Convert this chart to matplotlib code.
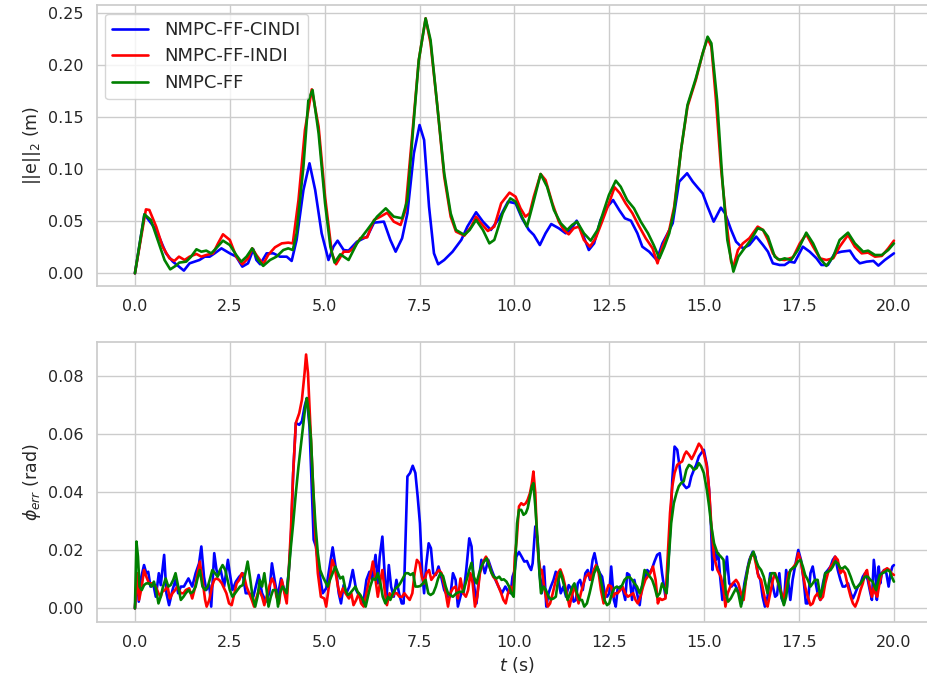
import matplotlib
matplotlib.use("Agg")
import matplotlib.pyplot as plt
import seaborn as sns

# Position error norm ||e||_2 (m): (time s, value)
err_cindi = [
    (0.00, 0.0), (0.25, 0.0567), (0.56, 0.0417), (0.82, 0.0192), (1.00, 0.0112), (1.29, 0.0026),
    (1.44, 0.0096), (1.70, 0.0128), (1.84, 0.0160), (1.97, 0.0160), (2.10, 0.0192), (2.28, 0.0240),
    (2.50, 0.0192), (2.67, 0.0160), (2.83, 0.0064), (2.98, 0.0096), (3.12, 0.0231), (3.20, 0.0128),
    (3.30, 0.0087), (3.47, 0.0192), (3.65, 0.0192), (3.82, 0.0160), (4.00, 0.0160), (4.13, 0.0119),
    (4.26, 0.0321), (4.44, 0.0801), (4.60, 0.1058), (4.75, 0.0801), (4.92, 0.0385), (5.10, 0.0128),
    (5.23, 0.0256), (5.34, 0.0314), (5.50, 0.0224), (5.63, 0.0218), (5.85, 0.0304), (6.12, 0.0353),
    (6.30, 0.0487), (6.56, 0.0497), (6.73, 0.0321), (6.87, 0.0208), (7.04, 0.0337), (7.18, 0.0577),
    (7.35, 0.1154), (7.50, 0.1426), (7.62, 0.1282), (7.75, 0.0641), (7.88, 0.0192), (7.99, 0.0087),
    (8.15, 0.0128), (8.37, 0.0208), (8.60, 0.0321), (8.76, 0.0449), (8.99, 0.0587), (9.17, 0.0497),
    (9.38, 0.0417), (9.60, 0.0530), (9.83, 0.0689), (10.03, 0.0673), (10.20, 0.0529), (10.38, 0.0417),
    (10.51, 0.0369), (10.67, 0.0272), (10.82, 0.0385), (10.97, 0.0474), (11.17, 0.0433), (11.35, 0.0385),
    (11.48, 0.0417), (11.64, 0.0506), (11.79, 0.0385), (11.96, 0.0224), (12.10, 0.0288), (12.27, 0.0513),
    (12.45, 0.0641), (12.60, 0.0705), (12.76, 0.0609), (12.91, 0.0529), (13.07, 0.0506), (13.24, 0.0385),
    (13.37, 0.0256), (13.55, 0.0208), (13.75, 0.0128), (13.90, 0.0288), (14.04, 0.0385), (14.17, 0.0481),
    (14.34, 0.0881), (14.55, 0.0962), (14.70, 0.0881), (14.83, 0.0824), (14.96, 0.0769), (15.09, 0.0641),
    (15.25, 0.0497), (15.44, 0.0631), (15.55, 0.0577), (15.71, 0.0417), (15.84, 0.0304), (16.02, 0.0240),
    (16.19, 0.0272), (16.37, 0.0353), (16.55, 0.0272), (16.68, 0.0208), (16.81, 0.0096), (16.99, 0.0080),
    (17.12, 0.0080), (17.25, 0.0112), (17.38, 0.0103), (17.60, 0.0256), (17.78, 0.0208), (17.96, 0.0144),
    (18.09, 0.0080), (18.26, 0.0080), (18.44, 0.0192), (18.62, 0.0208), (18.84, 0.0218), (18.97, 0.0144),
    (19.10, 0.0096), (19.28, 0.0112), (19.46, 0.0119), (19.59, 0.0074), (19.76, 0.0128), (20.00, 0.0192),
]

err_indi = [
    (0.00, 0.0), (0.29, 0.0615), (0.38, 0.0609), (0.56, 0.0449), (0.73, 0.0256), (0.91, 0.0144),
    (1.04, 0.0119), (1.16, 0.0160), (1.31, 0.0128), (1.44, 0.0160), (1.62, 0.0186), (1.75, 0.0160),
    (1.88, 0.0176), (2.06, 0.0192), (2.19, 0.0288), (2.32, 0.0375), (2.50, 0.0321), (2.67, 0.0160),
    (2.83, 0.0087), (2.98, 0.0144), (3.09, 0.0240), (3.20, 0.0176), (3.38, 0.0087), (3.51, 0.0176),
    (3.69, 0.0250), (3.87, 0.0288), (4.04, 0.0295), (4.16, 0.0288), (4.31, 0.0705), (4.48, 0.1378),
    (4.66, 0.1769), (4.84, 0.1410), (5.01, 0.0737), (5.19, 0.0192), (5.30, 0.0087), (5.50, 0.0208),
    (5.64, 0.0208), (5.76, 0.0240), (5.94, 0.0337), (6.12, 0.0346), (6.30, 0.0513), (6.47, 0.0545),
    (6.65, 0.0583), (6.82, 0.0497), (7.00, 0.0465), (7.13, 0.0609), (7.31, 0.1346), (7.48, 0.2051),
    (7.66, 0.2452), (7.79, 0.2212), (7.97, 0.1603), (8.15, 0.0929), (8.32, 0.0545), (8.46, 0.0401),
    (8.68, 0.0362), (8.86, 0.0449), (8.99, 0.0545), (9.12, 0.0481), (9.30, 0.0407), (9.47, 0.0449),
    (9.65, 0.0673), (9.87, 0.0776), (10.03, 0.0737), (10.16, 0.0625), (10.29, 0.0545), (10.40, 0.0577),
    (10.51, 0.0737), (10.69, 0.0955), (10.82, 0.0897), (11.00, 0.0673), (11.17, 0.0497), (11.30, 0.0417),
    (11.43, 0.0375), (11.56, 0.0433), (11.70, 0.0449), (11.83, 0.0321), (11.99, 0.0256), (12.14, 0.0337),
    (12.31, 0.0497), (12.49, 0.0673), (12.64, 0.0827), (12.78, 0.0769), (12.93, 0.0673), (13.11, 0.0577),
    (13.29, 0.0449), (13.46, 0.0337), (13.64, 0.0240), (13.77, 0.0096), (13.90, 0.0256), (14.08, 0.0417),
    (14.21, 0.0641), (14.39, 0.1186), (14.56, 0.1603), (14.78, 0.1859), (14.96, 0.2115), (15.09, 0.2260),
    (15.19, 0.2179), (15.31, 0.1667), (15.44, 0.1026), (15.58, 0.0513), (15.71, 0.0112), (15.77, 0.0064),
    (15.89, 0.0224), (16.02, 0.0288), (16.19, 0.0337), (16.41, 0.0449), (16.55, 0.0417), (16.68, 0.0321),
    (16.81, 0.0192), (16.94, 0.0135), (17.12, 0.0128), (17.34, 0.0154), (17.52, 0.0288), (17.69, 0.0375),
    (17.87, 0.0256), (18.05, 0.0144), (18.22, 0.0128), (18.40, 0.0144), (18.57, 0.0256), (18.79, 0.0369),
    (18.97, 0.0256), (19.15, 0.0192), (19.32, 0.0199), (19.50, 0.0160), (19.68, 0.0167), (19.85, 0.0240),
    (20.00, 0.0314),
]

err_ff = [
    (0.00, 0.0), (0.25, 0.0567), (0.42, 0.0513), (0.60, 0.0321), (0.78, 0.0128), (0.93, 0.0038),
    (1.07, 0.0071), (1.17, 0.0103), (1.35, 0.0112), (1.48, 0.0160), (1.62, 0.0231), (1.75, 0.0208),
    (1.88, 0.0218), (2.01, 0.0192), (2.14, 0.0240), (2.32, 0.0314), (2.50, 0.0272), (2.67, 0.0176),
    (2.80, 0.0112), (2.94, 0.0160), (3.09, 0.0240), (3.25, 0.0128), (3.38, 0.0071), (3.56, 0.0128),
    (3.73, 0.0160), (3.91, 0.0224), (4.04, 0.0240), (4.16, 0.0224), (4.26, 0.0385), (4.44, 0.1026),
    (4.57, 0.1667), (4.68, 0.1763), (4.84, 0.1346), (5.01, 0.0673), (5.15, 0.0256), (5.26, 0.0103),
    (5.41, 0.0183), (5.63, 0.0128), (5.85, 0.0288), (6.12, 0.0417), (6.38, 0.0545), (6.61, 0.0625),
    (6.82, 0.0545), (7.04, 0.0529), (7.18, 0.0705), (7.35, 0.1474), (7.48, 0.2051), (7.66, 0.2452),
    (7.79, 0.2244), (7.97, 0.1603), (8.15, 0.0962), (8.32, 0.0577), (8.46, 0.0417), (8.68, 0.0369),
    (8.82, 0.0417), (8.99, 0.0513), (9.17, 0.0417), (9.34, 0.0288), (9.47, 0.0321), (9.69, 0.0577),
    (9.89, 0.0721), (10.03, 0.0689), (10.20, 0.0545), (10.33, 0.0449), (10.47, 0.0641), (10.69, 0.0955),
    (10.86, 0.0833), (11.04, 0.0609), (11.22, 0.0481), (11.39, 0.0417), (11.52, 0.0465), (11.65, 0.0497),
    (11.83, 0.0385), (12.01, 0.0314), (12.19, 0.0417), (12.36, 0.0609), (12.49, 0.0753), (12.67, 0.0891),
    (12.80, 0.0833), (12.97, 0.0705), (13.15, 0.0625), (13.33, 0.0497), (13.52, 0.0385), (13.67, 0.0272),
    (13.82, 0.0144), (13.95, 0.0256), (14.08, 0.0385), (14.21, 0.0609), (14.39, 0.1186), (14.56, 0.1619),
    (14.78, 0.1875), (14.96, 0.2115), (15.09, 0.2276), (15.19, 0.2212), (15.34, 0.1667), (15.48, 0.0897),
    (15.61, 0.0321), (15.77, 0.0016), (15.90, 0.0160), (16.06, 0.0240), (16.23, 0.0321), (16.41, 0.0433),
    (16.55, 0.0417), (16.68, 0.0353), (16.86, 0.0160), (16.99, 0.0128), (17.12, 0.0144), (17.29, 0.0128),
    (17.47, 0.0224), (17.69, 0.0391), (17.87, 0.0288), (18.05, 0.0144), (18.22, 0.0071), (18.40, 0.0160),
    (18.57, 0.0321), (18.79, 0.0391), (18.97, 0.0288), (19.19, 0.0208), (19.32, 0.0218), (19.50, 0.0176),
    (19.68, 0.0176), (19.85, 0.0224), (20.00, 0.0288),
]

# Attitude error phi_err (rad): (time s, value)
phi_cindi = [
    (0.00, 0.0), (0.06, 0.0121), (0.10, 0.0023), (0.15, 0.0098), (0.24, 0.0149), (0.30, 0.0121),
    (0.35, 0.0126), (0.41, 0.0075), (0.48, 0.0086), (0.55, 0.0040), (0.63, 0.0121), (0.68, 0.0080),
    (0.77, 0.0184), (0.83, 0.0052), (0.90, 0.0011), (0.99, 0.0063), (1.07, 0.0098), (1.14, 0.0052),
    (1.21, 0.0075), (1.29, 0.0075), (1.41, 0.0103), (1.51, 0.0075), (1.60, 0.0121), (1.69, 0.0155),
    (1.75, 0.0213), (1.82, 0.0109), (1.88, 0.0063), (1.96, 0.0080), (2.01, 0.0006), (2.09, 0.0190),
    (2.15, 0.0132), (2.20, 0.0115), (2.26, 0.0132), (2.35, 0.0075), (2.45, 0.0167), (2.50, 0.0121),
    (2.57, 0.0063), (2.66, 0.0092), (2.75, 0.0109), (2.84, 0.0121), (2.92, 0.0052), (3.01, 0.0052),
    (3.12, 0.0040), (3.26, 0.0115), (3.35, 0.0052), (3.45, 0.0023), (3.54, 0.0052), (3.61, 0.0155),
    (3.68, 0.0098), (3.76, 0.0040), (3.85, 0.0103), (3.91, 0.0075), (3.98, 0.0040), (4.05, 0.0121),
    (4.11, 0.0236), (4.17, 0.0466), (4.24, 0.0638), (4.33, 0.0632), (4.40, 0.0644), (4.47, 0.0695),
    (4.53, 0.0724), (4.60, 0.0626), (4.66, 0.0408), (4.71, 0.0236), (4.77, 0.0213), (4.86, 0.0121),
    (4.95, 0.0052), (5.04, 0.0069), (5.13, 0.0144), (5.21, 0.0210), (5.30, 0.0132), (5.37, 0.0052),
    (5.43, 0.0017), (5.50, 0.0080), (5.57, 0.0052), (5.65, 0.0075), (5.74, 0.0132), (5.83, 0.0063),
    (5.92, 0.0040), (6.01, 0.0011), (6.10, 0.0098), (6.18, 0.0126), (6.25, 0.0098), (6.34, 0.0184),
    (6.40, 0.0086), (6.45, 0.0178), (6.52, 0.0247), (6.58, 0.0121), (6.62, 0.0017), (6.69, 0.0149),
    (6.75, 0.0075), (6.82, 0.0040), (6.89, 0.0098), (6.96, 0.0052), (7.03, 0.0017), (7.08, 0.0017),
    (7.13, 0.0236), (7.18, 0.0454), (7.25, 0.0466), (7.32, 0.0491), (7.39, 0.0466), (7.45, 0.0385),
    (7.51, 0.0293), (7.57, 0.0121), (7.62, 0.0052), (7.67, 0.0144), (7.74, 0.0224), (7.80, 0.0207),
    (7.86, 0.0121), (7.93, 0.0115), (8.00, 0.0144), (8.07, 0.0109), (8.15, 0.0063), (8.25, 0.0040),
    (8.31, 0.0040), (8.38, 0.0121), (8.45, 0.0098), (8.51, 0.0006), (8.60, 0.0052), (8.66, 0.0052),
    (8.73, 0.0132), (8.81, 0.0241), (8.87, 0.0213), (8.93, 0.0086), (9.00, 0.0017), (9.07, 0.0109),
    (9.13, 0.0167), (9.22, 0.0121), (9.31, 0.0167), (9.40, 0.0132), (9.50, 0.0098), (9.58, 0.0075),
    (9.67, 0.0052), (9.76, 0.0075), (9.84, 0.0057), (9.90, 0.0052), (9.95, 0.0109), (10.01, 0.0132),
    (10.05, 0.0178), (10.12, 0.0194), (10.19, 0.0178), (10.26, 0.0161), (10.33, 0.0163), (10.39, 0.0144),
    (10.44, 0.0132), (10.48, 0.0155), (10.55, 0.0282), (10.61, 0.0236), (10.66, 0.0121), (10.72, 0.0052),
    (10.78, 0.0144), (10.84, 0.0006), (10.90, 0.0052), (10.96, 0.0075), (11.03, 0.0098), (11.09, 0.0126),
    (11.16, 0.0098), (11.22, 0.0052), (11.29, 0.0075), (11.36, 0.0040), (11.43, 0.0080), (11.49, 0.0069),
    (11.56, 0.0023), (11.62, 0.0029), (11.67, 0.0086), (11.73, 0.0098), (11.80, 0.0063), (11.87, 0.0121),
    (11.93, 0.0132), (11.99, 0.0098), (12.06, 0.0167), (12.11, 0.0190), (12.18, 0.0144), (12.25, 0.0121),
    (12.31, 0.0109), (12.38, 0.0052), (12.44, 0.0040), (12.50, 0.0052), (12.55, 0.0144), (12.62, 0.0029),
    (12.67, 0.0006), (12.72, 0.0069), (12.79, 0.0075), (12.85, 0.0069), (12.92, 0.0029), (12.97, 0.0121),
    (13.03, 0.0115), (13.10, 0.0029), (13.16, 0.0098), (13.23, 0.0052), (13.30, 0.0011), (13.36, 0.0075),
    (13.43, 0.0098), (13.50, 0.0132), (13.57, 0.0121), (13.63, 0.0138), (13.69, 0.0161), (13.76, 0.0184),
    (13.83, 0.0190), (13.89, 0.0121), (13.94, 0.0075), (13.98, 0.0040), (14.02, 0.0075), (14.10, 0.0259),
    (14.16, 0.0443), (14.22, 0.0557), (14.29, 0.0546), (14.35, 0.0489), (14.40, 0.0443), (14.46, 0.0425),
    (14.53, 0.0414), (14.60, 0.0420), (14.66, 0.0454), (14.73, 0.0477), (14.79, 0.0494), (14.86, 0.0523),
    (14.92, 0.0534), (14.99, 0.0546), (15.07, 0.0494), (15.13, 0.0408), (15.18, 0.0282), (15.22, 0.0132),
    (15.26, 0.0213), (15.31, 0.0167), (15.37, 0.0190), (15.42, 0.0109), (15.48, 0.0029), (15.53, 0.0098),
    (15.60, 0.0178), (15.66, 0.0086), (15.72, 0.0075), (15.79, 0.0086), (15.86, 0.0069), (15.92, 0.0052),
    (15.99, 0.0017), (16.06, 0.0086), (16.13, 0.0132), (16.19, 0.0167), (16.28, 0.0195), (16.35, 0.0178),
    (16.41, 0.0121), (16.48, 0.0098), (16.54, 0.0040), (16.60, 0.0006), (16.67, 0.0040), (16.74, 0.0121),
    (16.81, 0.0075), (16.87, 0.0040), (16.92, 0.0046), (16.98, 0.0121), (17.04, 0.0034), (17.10, 0.0017),
    (17.16, 0.0132), (17.22, 0.0086), (17.27, 0.0029), (17.33, 0.0098), (17.40, 0.0149), (17.48, 0.0201),
    (17.55, 0.0167), (17.62, 0.0098), (17.68, 0.0017), (17.73, 0.0017), (17.80, 0.0121), (17.86, 0.0144),
    (17.92, 0.0098), (17.99, 0.0052), (18.06, 0.0029), (18.13, 0.0086), (18.19, 0.0121), (18.26, 0.0132),
    (18.33, 0.0144), (18.39, 0.0167), (18.45, 0.0178), (18.52, 0.0132), (18.59, 0.0098), (18.65, 0.0075),
    (18.71, 0.0075), (18.79, 0.0086), (18.86, 0.0052), (18.92, 0.0034), (18.98, 0.0052), (19.05, 0.0075),
    (19.12, 0.0086), (19.18, 0.0109), (19.24, 0.0121), (19.31, 0.0098), (19.38, 0.0052), (19.42, 0.0029),
    (19.47, 0.0167), (19.52, 0.0109), (19.55, 0.0029), (19.60, 0.0144), (19.64, 0.0086), (19.68, 0.0121),
    (19.74, 0.0132), (19.80, 0.0121), (19.86, 0.0075), (19.91, 0.0121), (19.96, 0.0144), (20.00, 0.0149),
]

phi_indi = [
    (0.00, 0.0), (0.06, 0.0121), (0.11, 0.0029), (0.18, 0.0075), (0.24, 0.0132), (0.30, 0.0109),
    (0.37, 0.0086), (0.46, 0.0086), (0.55, 0.0075), (0.62, 0.0052), (0.68, 0.0040), (0.72, 0.0057),
    (0.79, 0.0063), (0.86, 0.0075), (0.92, 0.0034), (0.99, 0.0052), (1.06, 0.0063), (1.12, 0.0075),
    (1.21, 0.0052), (1.28, 0.0052), (1.34, 0.0063), (1.43, 0.0069), (1.51, 0.0034), (1.59, 0.0075),
    (1.65, 0.0121), (1.71, 0.0161), (1.78, 0.0098), (1.85, 0.0029), (1.89, 0.0006), (1.96, 0.0029),
    (2.03, 0.0075), (2.09, 0.0098), (2.15, 0.0103), (2.22, 0.0098), (2.29, 0.0086), (2.35, 0.0069),
    (2.41, 0.0052), (2.48, 0.0017), (2.55, 0.0011), (2.62, 0.0052), (2.68, 0.0086), (2.75, 0.0098),
    (2.82, 0.0121), (2.88, 0.0109), (2.94, 0.0075), (3.01, 0.0052), (3.08, 0.0029), (3.14, 0.0006),
    (3.21, 0.0040), (3.27, 0.0063), (3.35, 0.0040), (3.41, 0.0011), (3.47, 0.0040), (3.54, 0.0075),
    (3.61, 0.0103), (3.67, 0.0086), (3.73, 0.0040), (3.80, 0.0017), (3.87, 0.0098), (3.94, 0.0052),
    (4.00, 0.0017), (4.05, 0.0121), (4.11, 0.0270), (4.17, 0.0466), (4.24, 0.0638), (4.33, 0.0672),
    (4.40, 0.0718), (4.47, 0.0810), (4.51, 0.0874), (4.56, 0.0810), (4.62, 0.0638), (4.69, 0.0443),
    (4.75, 0.0259), (4.82, 0.0121), (4.90, 0.0040), (4.99, 0.0034), (5.04, 0.0006), (5.11, 0.0075),
    (5.20, 0.0167), (5.26, 0.0144), (5.35, 0.0075), (5.41, 0.0040), (5.48, 0.0069), (5.55, 0.0052),
    (5.64, 0.0034), (5.70, 0.0052), (5.76, 0.0011), (5.83, 0.0029), (5.90, 0.0052), (5.96, 0.0017),
    (6.03, 0.0006), (6.10, 0.0052), (6.17, 0.0098), (6.23, 0.0132), (6.27, 0.0161), (6.34, 0.0098),
    (6.40, 0.0040), (6.47, 0.0098), (6.52, 0.0132), (6.58, 0.0063), (6.64, 0.0011), (6.71, 0.0052),
    (6.78, 0.0040), (6.84, 0.0052), (6.90, 0.0052), (6.97, 0.0040), (7.04, 0.0040), (7.10, 0.0052),
    (7.17, 0.0040), (7.24, 0.0029), (7.31, 0.0052), (7.37, 0.0121), (7.43, 0.0167), (7.50, 0.0155),
    (7.56, 0.0109), (7.62, 0.0086), (7.68, 0.0121), (7.75, 0.0132), (7.81, 0.0098), (7.87, 0.0109),
    (7.94, 0.0121), (8.01, 0.0132), (8.08, 0.0121), (8.16, 0.0075), (8.25, 0.0006), (8.31, 0.0052),
    (8.38, 0.0069), (8.45, 0.0075), (8.51, 0.0034), (8.58, 0.0103), (8.65, 0.0052), (8.72, 0.0040),
    (8.78, 0.0063), (8.84, 0.0121), (8.90, 0.0086), (8.96, 0.0006), (9.02, 0.0040), (9.09, 0.0121),
    (9.18, 0.0161), (9.25, 0.0178), (9.31, 0.0161), (9.37, 0.0132), (9.44, 0.0109), (9.51, 0.0098),
    (9.58, 0.0075), (9.65, 0.0052), (9.71, 0.0029), (9.77, 0.0017), (9.83, 0.0052), (9.90, 0.0075),
    (9.97, 0.0052), (10.01, 0.0178), (10.06, 0.0236), (10.12, 0.0351), (10.18, 0.0362), (10.24, 0.0356),
    (10.30, 0.0362), (10.35, 0.0374), (10.41, 0.0397), (10.46, 0.0431), (10.50, 0.0471), (10.55, 0.0397),
    (10.59, 0.0259), (10.63, 0.0178), (10.68, 0.0132), (10.72, 0.0132), (10.77, 0.0086), (10.83, 0.0040),
    (10.88, 0.0006), (10.94, 0.0017), (11.01, 0.0052), (11.07, 0.0086), (11.14, 0.0121), (11.21, 0.0134),
    (11.28, 0.0109), (11.34, 0.0075), (11.40, 0.0040), (11.45, 0.0006), (11.51, 0.0040), (11.58, 0.0080),
    (11.63, 0.0052), (11.69, 0.0017), (11.75, 0.0052), (11.82, 0.0086), (11.88, 0.0109), (11.96, 0.0121),
    (12.02, 0.0098), (12.09, 0.0132), (12.15, 0.0149), (12.22, 0.0121), (12.28, 0.0063), (12.35, 0.0017),
    (12.41, 0.0052), (12.48, 0.0080), (12.55, 0.0075), (12.60, 0.0040), (12.66, 0.0052), (12.72, 0.0052),
    (12.79, 0.0063), (12.85, 0.0075), (12.92, 0.0052), (12.99, 0.0040), (13.06, 0.0046), (13.13, 0.0052),
    (13.19, 0.0029), (13.25, 0.0017), (13.32, 0.0040), (13.39, 0.0075), (13.45, 0.0098), (13.51, 0.0109),
    (13.58, 0.0121), (13.65, 0.0144), (13.72, 0.0098), (13.78, 0.0017), (13.83, 0.0034), (13.89, 0.0029),
    (13.98, 0.0034), (14.04, 0.0178), (14.10, 0.0328), (14.16, 0.0420), (14.22, 0.0466), (14.29, 0.0494),
    (14.35, 0.0500), (14.42, 0.0506), (14.48, 0.0529), (14.53, 0.0540), (14.60, 0.0529), (14.67, 0.0514),
    (14.73, 0.0529), (14.79, 0.0546), (14.86, 0.0567), (14.92, 0.0557), (14.99, 0.0534), (15.07, 0.0489),
    (15.13, 0.0408), (15.19, 0.0282), (15.26, 0.0178), (15.35, 0.0132), (15.44, 0.0109), (15.51, 0.0063),
    (15.56, 0.0006), (15.62, 0.0052), (15.69, 0.0075), (15.75, 0.0086), (15.84, 0.0098), (15.90, 0.0086),
    (15.97, 0.0052), (16.04, 0.0029), (16.10, 0.0098), (16.16, 0.0144), (16.23, 0.0178), (16.30, 0.0190),
    (16.36, 0.0155), (16.43, 0.0109), (16.50, 0.0098), (16.57, 0.0052), (16.63, 0.0017), (16.67, 0.0006),
    (16.74, 0.0052), (16.81, 0.0098), (16.87, 0.0121), (16.92, 0.0098), (16.98, 0.0075), (17.04, 0.0052),
    (17.10, 0.0029), (17.16, 0.0075), (17.22, 0.0121), (17.29, 0.0132), (17.36, 0.0144), (17.42, 0.0155),
    (17.48, 0.0190), (17.54, 0.0167), (17.60, 0.0121), (17.66, 0.0075), (17.73, 0.0040), (17.80, 0.0011),
    (17.86, 0.0017), (17.92, 0.0040), (17.99, 0.0052), (18.06, 0.0029), (18.13, 0.0040), (18.19, 0.0086),
    (18.26, 0.0121), (18.33, 0.0144), (18.39, 0.0155), (18.45, 0.0178), (18.52, 0.0167), (18.59, 0.0121),
    (18.65, 0.0132), (18.71, 0.0121), (18.79, 0.0075), (18.86, 0.0040), (18.92, 0.0017), (18.98, 0.0006),
    (19.05, 0.0029), (19.12, 0.0063), (19.18, 0.0086), (19.24, 0.0121), (19.29, 0.0132), (19.36, 0.0075),
    (19.42, 0.0040), (19.47, 0.0075), (19.51, 0.0052), (19.56, 0.0040), (19.62, 0.0086), (19.68, 0.0121),
    (19.75, 0.0132), (19.82, 0.0138), (19.88, 0.0132), (19.93, 0.0121), (20.00, 0.0115),
]

phi_ff = [
    (0.00, 0.0), (0.04, 0.0230), (0.08, 0.0178), (0.12, 0.0075), (0.18, 0.0063), (0.24, 0.0080),
    (0.30, 0.0086), (0.37, 0.0086), (0.44, 0.0075), (0.50, 0.0092), (0.56, 0.0063), (0.62, 0.0017),
    (0.68, 0.0040), (0.74, 0.0075), (0.81, 0.0103), (0.88, 0.0075), (0.94, 0.0080), (1.01, 0.0098),
    (1.07, 0.0121), (1.14, 0.0075), (1.21, 0.0029), (1.28, 0.0040), (1.34, 0.0052), (1.41, 0.0063),
    (1.47, 0.0052), (1.53, 0.0057), (1.60, 0.0075), (1.66, 0.0109), (1.71, 0.0132), (1.78, 0.0075),
    (1.85, 0.0063), (1.92, 0.0075), (1.97, 0.0098), (2.04, 0.0132), (2.11, 0.0121), (2.18, 0.0109),
    (2.24, 0.0132), (2.31, 0.0149), (2.38, 0.0132), (2.44, 0.0098), (2.50, 0.0063), (2.57, 0.0040),
    (2.64, 0.0052), (2.70, 0.0063), (2.77, 0.0075), (2.84, 0.0080), (2.91, 0.0121), (2.97, 0.0161),
    (3.03, 0.0109), (3.10, 0.0040), (3.17, 0.0006), (3.23, 0.0040), (3.29, 0.0098), (3.35, 0.0075),
    (3.41, 0.0121), (3.47, 0.0063), (3.52, 0.0006), (3.58, 0.0040), (3.64, 0.0063), (3.72, 0.0063),
    (3.77, 0.0006), (3.82, 0.0052), (3.89, 0.0075), (3.95, 0.0063), (4.00, 0.0052), (4.05, 0.0121),
    (4.11, 0.0213), (4.17, 0.0293), (4.24, 0.0397), (4.31, 0.0489), (4.38, 0.0569), (4.44, 0.0638),
    (4.49, 0.0695), (4.53, 0.0724), (4.58, 0.0672), (4.64, 0.0580), (4.70, 0.0408), (4.76, 0.0282),
    (4.82, 0.0190), (4.88, 0.0132), (4.95, 0.0109), (5.04, 0.0086), (5.08, 0.0075), (5.14, 0.0098),
    (5.21, 0.0121), (5.28, 0.0144), (5.35, 0.0121), (5.41, 0.0103), (5.48, 0.0109), (5.55, 0.0063),
    (5.61, 0.0046), (5.67, 0.0052), (5.74, 0.0063), (5.81, 0.0075), (5.87, 0.0057), (5.94, 0.0046),
    (6.01, 0.0029), (6.08, 0.0006), (6.14, 0.0040), (6.20, 0.0075), (6.27, 0.0103), (6.34, 0.0098),
    (6.40, 0.0121), (6.47, 0.0086), (6.53, 0.0040), (6.60, 0.0017), (6.67, 0.0040), (6.73, 0.0029),
    (6.80, 0.0052), (6.87, 0.0069), (6.93, 0.0075), (6.99, 0.0086), (7.06, 0.0103), (7.13, 0.0121),
    (7.20, 0.0121), (7.26, 0.0115), (7.33, 0.0121), (7.39, 0.0075), (7.46, 0.0075), (7.52, 0.0077),
    (7.59, 0.0086), (7.66, 0.0098), (7.73, 0.0052), (7.79, 0.0046), (7.86, 0.0052), (7.93, 0.0075),
    (7.99, 0.0103), (8.05, 0.0121), (8.12, 0.0111), (8.19, 0.0075), (8.25, 0.0052), (8.31, 0.0046),
    (8.38, 0.0040), (8.47, 0.0052), (8.56, 0.0057), (8.65, 0.0057), (8.74, 0.0098), (8.81, 0.0132),
    (8.87, 0.0157), (8.93, 0.0109), (9.00, 0.0086), (9.07, 0.0121), (9.13, 0.0144), (9.20, 0.0161),
    (9.27, 0.0172), (9.34, 0.0144), (9.40, 0.0121), (9.46, 0.0109), (9.53, 0.0103), (9.60, 0.0109),
    (9.66, 0.0098), (9.72, 0.0100), (9.79, 0.0092), (9.86, 0.0075), (9.92, 0.0052), (9.98, 0.0040),
    (10.03, 0.0178), (10.07, 0.0293), (10.12, 0.0339), (10.18, 0.0339), (10.24, 0.0322), (10.30, 0.0328),
    (10.35, 0.0345), (10.41, 0.0385), (10.46, 0.0420), (10.50, 0.0431), (10.55, 0.0351), (10.61, 0.0236),
    (10.66, 0.0121), (10.70, 0.0052), (10.77, 0.0075), (10.83, 0.0063), (10.90, 0.0040), (10.96, 0.0031),
    (11.03, 0.0034), (11.09, 0.0040), (11.14, 0.0086), (11.21, 0.0126), (11.27, 0.0098), (11.34, 0.0063),
    (11.40, 0.0029), (11.47, 0.0052), (11.53, 0.0075), (11.58, 0.0086), (11.65, 0.0052), (11.72, 0.0029),
    (11.78, 0.0029), (11.84, 0.0006), (11.91, 0.0017), (11.98, 0.0052), (12.04, 0.0086), (12.10, 0.0121),
    (12.18, 0.0144), (12.24, 0.0121), (12.31, 0.0075), (12.37, 0.0029), (12.44, 0.0011), (12.50, 0.0017),
    (12.57, 0.0052), (12.63, 0.0069), (12.70, 0.0075), (12.77, 0.0069), (12.84, 0.0080), (12.90, 0.0098),
    (12.97, 0.0107), (13.04, 0.0107), (13.10, 0.0098), (13.16, 0.0086), (13.23, 0.0075), (13.30, 0.0052),
    (13.36, 0.0075), (13.43, 0.0132), (13.50, 0.0121), (13.57, 0.0109), (13.63, 0.0098), (13.69, 0.0075),
    (13.76, 0.0040), (13.83, 0.0052), (13.89, 0.0086), (13.95, 0.0069), (14.01, 0.0052), (14.07, 0.0178),
    (14.13, 0.0293), (14.20, 0.0362), (14.27, 0.0397), (14.33, 0.0420), (14.39, 0.0431), (14.46, 0.0437),
    (14.53, 0.0477), (14.60, 0.0494), (14.66, 0.0489), (14.73, 0.0477), (14.80, 0.0483), (14.86, 0.0500),
    (14.92, 0.0489), (14.99, 0.0466), (15.07, 0.0408), (15.13, 0.0351), (15.19, 0.0282), (15.26, 0.0224),
    (15.35, 0.0190), (15.44, 0.0178), (15.51, 0.0167), (15.57, 0.0052), (15.63, 0.0023), (15.70, 0.0034),
    (15.77, 0.0052), (15.84, 0.0069), (15.90, 0.0052), (15.97, 0.0006), (16.03, 0.0052), (16.10, 0.0098),
    (16.16, 0.0144), (16.23, 0.0178), (16.30, 0.0195), (16.36, 0.0167), (16.43, 0.0144), (16.50, 0.0132),
    (16.57, 0.0109), (16.63, 0.0075), (16.67, 0.0052), (16.72, 0.0098), (16.78, 0.0121), (16.85, 0.0121),
    (16.92, 0.0103), (16.98, 0.0075), (17.04, 0.0040), (17.10, 0.0011), (17.16, 0.0040), (17.22, 0.0098),
    (17.27, 0.0132), (17.33, 0.0138), (17.40, 0.0144), (17.47, 0.0161), (17.54, 0.0167), (17.60, 0.0144),
    (17.66, 0.0115), (17.73, 0.0098), (17.80, 0.0075), (17.86, 0.0086), (17.92, 0.0098), (17.99, 0.0098),
    (18.06, 0.0040), (18.13, 0.0075), (18.19, 0.0121), (18.26, 0.0126), (18.33, 0.0132), (18.39, 0.0144),
    (18.45, 0.0161), (18.52, 0.0155), (18.59, 0.0138), (18.65, 0.0138), (18.71, 0.0144), (18.79, 0.0132),
    (18.86, 0.0109), (18.92, 0.0086), (18.98, 0.0069), (19.05, 0.0075), (19.12, 0.0086), (19.18, 0.0098),
    (19.24, 0.0109), (19.31, 0.0109), (19.38, 0.0098), (19.44, 0.0092), (19.49, 0.0075), (19.53, 0.0063),
    (19.57, 0.0086), (19.63, 0.0115), (19.70, 0.0121), (19.77, 0.0126), (19.83, 0.0132), (19.90, 0.0126),
    (19.94, 0.0109), (20.00, 0.0092),
]

labels = ["NMPC-FF-CINDI", "NMPC-FF-INDI", "NMPC-FF"]
colors = ["blue", "red", "green"]
x_ticks = [0.0, 2.5, 5.0, 7.5, 10.0, 12.5, 15.0, 17.5, 20.0]

sns.set_theme(style="whitegrid", context="notebook")
plt.rcParams["font.family"] = ["DejaVu Sans"]

fig = plt.figure(figsize=(9.28, 6.85), dpi=100)
ax1 = fig.add_axes([0.1045, 0.5825, 0.905, 0.4095])
ax2 = fig.add_axes([0.1045, 0.0924, 0.905, 0.4083])


def draw(ax, series):
    for data, lab, col in zip(series, labels, colors):
        t, v = zip(*data)
        ax.plot(t, v, color=col, lw=1.9, label=lab)


draw(ax1, [err_cindi, err_indi, err_ff])
draw(ax2, [phi_cindi, phi_indi, phi_ff])

for ax in (ax1, ax2):
    ax.set_xlim(-1.0, 21.13)
    ax.set_xticks(x_ticks)
    ax.tick_params(labelsize=11.5)

ax1.set_ylim(-0.0122, 0.2576)
ax1.set_yticks([0.0, 0.05, 0.10, 0.15, 0.20, 0.25])
ax1.set_yticklabels(["0.00", "0.05", "0.10", "0.15", "0.20", "0.25"])
ax2.set_ylim(-0.0046, 0.0917)
ax2.set_yticks([0.0, 0.02, 0.04, 0.06, 0.08])
ax2.set_yticklabels(["0.00", "0.02", "0.04", "0.06", "0.08"])

ax1.set_ylabel("||e||$_2$ (m)", fontsize=12.5)
ax2.set_ylabel(r"$\phi_{err}$ (rad)", fontsize=12.5)
ax2.set_xlabel("$t$ (s)", fontsize=12.5)

ax1.legend(loc="upper left", fontsize=13, frameon=True, framealpha=0.8,
           handletextpad=0.9, labelspacing=0.48, borderaxespad=0.45)

fig.savefig("out.png", dpi=100)
